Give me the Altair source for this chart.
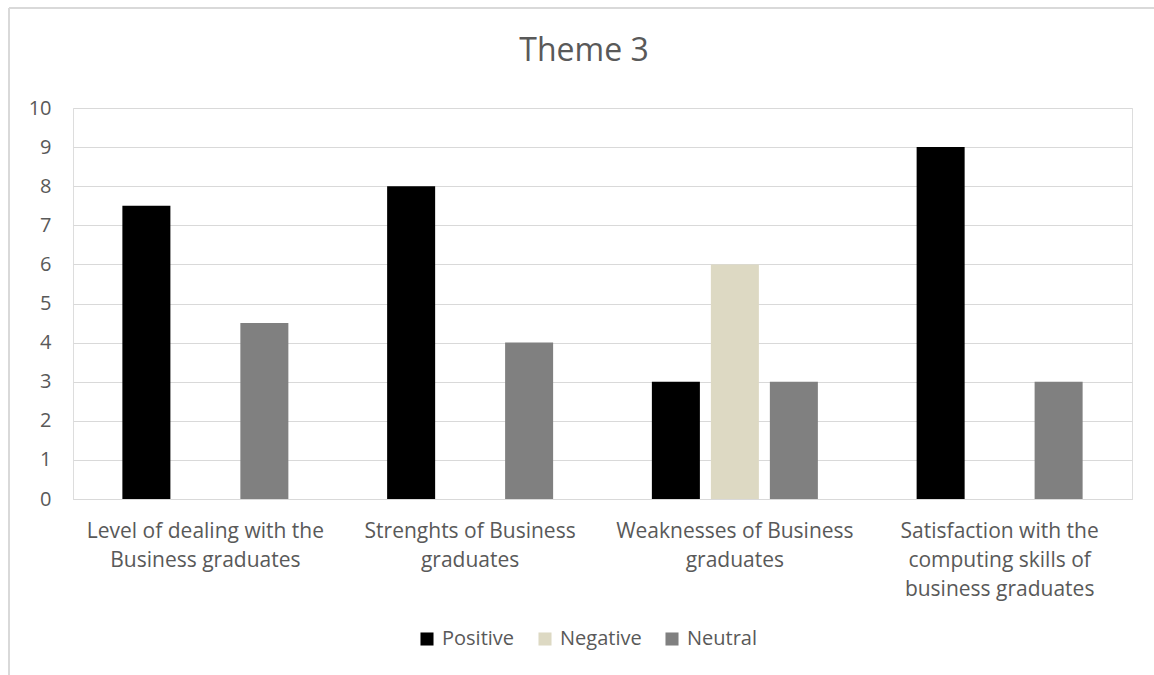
import altair as alt
import pandas as pd

categories = [
    "Level of dealing with the|Business graduates",
    "Strenghts of Business|graduates",
    "Weaknesses of Business|graduates",
    "Satisfaction with the|computing skills of|business graduates",
]
series = ["Positive", "Negative", "Neutral"]
positive = [7.5, 8, 3, 9]
negative = [None, None, 6, None]
neutral = [4.5, 4, 3, 3]
colors = ["#000000", "#DDD9C3", "#808080"]
title_text = ["Theme 3"]

rows = []
for i, c in enumerate(categories):
    for s, vals in zip(series, [positive, negative, neutral]):
        if vals[i] is not None:
            rows.append({"category": c, "series": s, "value": vals[i]})
df = pd.DataFrame(rows)

FONT = "Open Sans"
GREY = "#595959"
W, H = 1059, 391
LEFT, TOP = 73, 108

bars = alt.Chart(df).mark_bar().encode(
    x=alt.X("category:N", sort=categories,
            scale=alt.Scale(paddingInner=0.373, paddingOuter=0.1865),
            axis=alt.Axis(title=None, labelAngle=0, labelExpr="split(datum.label, '|')",
                          labelFontSize=21, labelColor=GREY, labelFont=FONT,
                          labelLineHeight=29, labelPadding=21, ticks=False,
                          domainColor="#d9d9d9", labelLimit=400)),
    xOffset=alt.XOffset("series:N", sort=series,
                        scale=alt.Scale(domain=series, paddingInner=0.186, paddingOuter=0)),
    y=alt.Y("value:Q", scale=alt.Scale(domain=[0, 10]),
            axis=alt.Axis(title=None, values=list(range(0, 11)), labelOverlap=False,
                          labelFontSize=20, labelColor=GREY, labelFont=FONT,
                          ticks=False, domain=False, gridColor="#d9d9d9",
                          labelPadding=22)),
    color=alt.Color("series:N", sort=series,
                    scale=alt.Scale(domain=series, range=colors),
                    legend=alt.Legend(title=None, orient="none", direction="horizontal",
                                      legendX=344, legendY=521, symbolType="square",
                                      symbolSize=170, symbolStrokeWidth=0,
                                      labelFontSize=20, labelColor=GREY, labelFont=FONT,
                                      columnPadding=20, symbolOffset=0, labelOffset=5)),
)

title = alt.Chart(pd.DataFrame({"t": title_text})).mark_text(
    fontSize=32, font=FONT, color=GREY, align="center", baseline="middle"
).encode(text="t:N", x=alt.value(584 - LEFT), y=alt.value(51 - TOP))

border_top = alt.Chart(df).mark_rule(color="#d9d9d9", strokeWidth=2).encode(
    x=alt.value(9 - LEFT), x2=alt.value(W + 100), y=alt.value(8 - TOP))
border_left = alt.Chart(df).mark_rule(color="#d9d9d9", strokeWidth=2).encode(
    x=alt.value(9 - LEFT), y=alt.value(8 - TOP), y2=alt.value(H + 200))

chart = alt.layer(border_top, border_left, title, bars).properties(
    width=W, height=H,
    autosize=alt.AutoSizeParams(type="none"),
    padding={"left": LEFT, "top": TOP, "right": 1154 - LEFT - W, "bottom": 675 - TOP - H},
).configure_view(stroke=None).configure(background="white")

chart.save("out.html", embed_options={"renderer": "svg", "actions": False})
